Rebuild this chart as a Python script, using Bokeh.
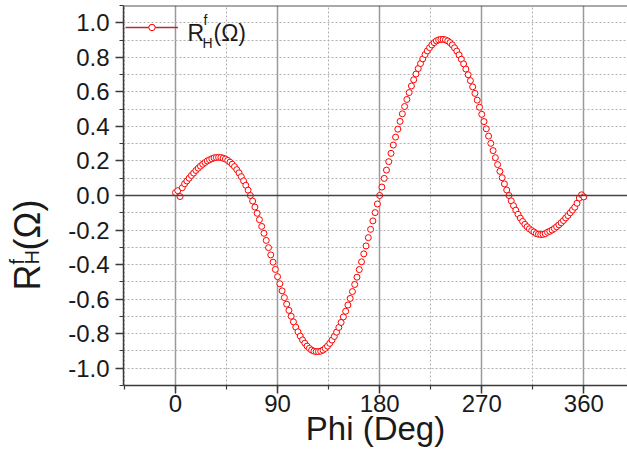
import math
from bokeh.plotting import figure
from bokeh.layouts import row
from bokeh.models import (Range1d, SingleIntervalTicker, PrintfTickFormatter, Span,
                          Label, Legend, LegendItem, ColumnDataSource)
from bokeh.embed import file_html
from bokeh.resources import INLINE

# ---- data ----
phi_deg = list(range(0, 361, 2))
rh_ohm = [
    0.017, 0.028, -0.006, 0.045, 0.068, 0.084, 0.100, 0.116, 0.130, 0.145,   # 0-18
    0.158, 0.170, 0.181, 0.191, 0.200, 0.207, 0.213, 0.218, 0.220, 0.221,    # 20-38
    0.220, 0.216, 0.211, 0.203, 0.193, 0.181, 0.167, 0.150, 0.131, 0.109,    # 40-58
    0.085, 0.059, 0.031, 0.000, -0.032, -0.067, -0.103, -0.140, -0.179, -0.219,  # 60-78
    -0.260, -0.302, -0.344, -0.386, -0.428, -0.470, -0.511, -0.552, -0.591, -0.629,  # 80-98
    -0.665, -0.699, -0.732, -0.762, -0.789, -0.814, -0.836, -0.855, -0.872, -0.885,  # 100-118
    -0.895, -0.901, -0.904, -0.904, -0.901, -0.895, -0.885, -0.872, -0.856, -0.837,  # 120-138
    -0.816, -0.791, -0.764, -0.735, -0.703, -0.670, -0.634, -0.596, -0.556, -0.515,  # 140-158
    -0.473, -0.429, -0.384, -0.338, -0.292, -0.244, -0.196, -0.147, -0.099, -0.049,  # 160-178
    0.000,                                                                       # 180
    0.049, 0.099, 0.147, 0.196, 0.244, 0.292, 0.338, 0.384, 0.429, 0.473,    # 182-200
    0.515, 0.556, 0.596, 0.634, 0.670, 0.703, 0.735, 0.764, 0.791, 0.816,    # 202-220
    0.837, 0.856, 0.872, 0.885, 0.895, 0.901, 0.904, 0.904, 0.901, 0.895,    # 222-240
    0.885, 0.872, 0.855, 0.836, 0.814, 0.789, 0.762, 0.732, 0.699, 0.665,    # 242-260
    0.629, 0.591, 0.552, 0.511, 0.470, 0.428, 0.386, 0.344, 0.302, 0.260,    # 262-280
    0.219, 0.179, 0.140, 0.103, 0.067, 0.032, 0.000, -0.031, -0.059, -0.085,  # 282-300
    -0.109, -0.131, -0.150, -0.167, -0.181, -0.193, -0.203, -0.211, -0.220, -0.224,  # 302-320
    -0.226, -0.225, -0.221, -0.213, -0.207, -0.200, -0.191, -0.181, -0.170, -0.158,  # 322-340
    -0.145, -0.130, -0.116, -0.100, -0.084, -0.068, -0.045, -0.015, 0.004, -0.008,   # 342-360
]

x_title = "Phi (Deg)"
y_title_main = "R"
y_title_sub = "H"
y_title_sup = "f"
y_title_unit = "(\u03a9)"

FONT = "Liberation Sans"
TXT = "#1a1a1a"
AX = "#3a3a3a"
H = 461
W_STRIP = 60
BOTTOM = 385  # page y of the plot frame bottom

# ---- main plot ----
p = figure(width=627 - W_STRIP, height=H, output_backend="svg", toolbar_location=None,
           x_range=Range1d(-45.85, 398.5), y_range=Range1d(-1.1, 1.1),
           min_border_left=123 - W_STRIP, min_border_right=0, min_border_top=5,
           min_border_bottom=H - BOTTOM,
           background_fill_color="white", border_fill_color="white")
p.outline_line_color = None

p.xaxis.ticker = SingleIntervalTicker(interval=90, num_minor_ticks=2)
p.yaxis.ticker = SingleIntervalTicker(interval=0.2, num_minor_ticks=2)
p.yaxis.formatter = PrintfTickFormatter(format="%.1f")
for ax in (p.xaxis, p.yaxis):
    ax.axis_line_color = AX
    ax.axis_line_width = 1.5
    ax.major_tick_line_color = AX
    ax.major_tick_line_width = 1.5
    ax.minor_tick_line_color = AX
    ax.minor_tick_line_width = 1.2
    ax.major_tick_in = 0
    ax.minor_tick_in = 0
    ax.major_tick_out = 8
    ax.minor_tick_out = 4
    ax.major_label_text_font = FONT
    ax.major_label_text_font_size = "24px"
    ax.major_label_text_color = TXT
p.xaxis.major_label_standoff = 1
p.yaxis.major_label_standoff = 6
p.xaxis.axis_label = x_title
p.xaxis.axis_label_text_font = FONT
p.xaxis.axis_label_text_font_size = "33px"
p.xaxis.axis_label_text_font_style = "normal"
p.xaxis.axis_label_text_color = TXT
p.xaxis.axis_label_standoff = -5

p.xgrid.grid_line_color = "#9a9a9a"
p.xgrid.grid_line_width = 1.5
p.xgrid.minor_grid_line_color = "#b0b0b0"
p.xgrid.minor_grid_line_dash = "2 2"
p.xgrid.minor_grid_line_width = 1
p.ygrid.grid_line_color = None
p.ygrid.minor_grid_line_color = "#b0b0b0"
p.ygrid.minor_grid_line_dash = "2 2"
p.ygrid.minor_grid_line_width = 1

p.add_layout(Span(location=0, dimension="width", line_color="#444444", line_width=1.5))
p.add_layout(Span(location=1.1, dimension="width", line_color="#555555", line_width=2))

src = ColumnDataSource(dict(x=phi_deg, y=rh_ohm))
leg_line = p.line("x", "y", source=src, line_color="#b03030", line_width=1.3, visible=False)
circ = p.scatter("x", "y", source=src, marker="circle", size=6, line_color="#ff0000",
                 fill_color="white", line_width=1)

legend = Legend(items=[LegendItem(label=" ", renderers=[leg_line, circ])],
                location=(2, 350), glyph_width=53, glyph_height=16, padding=0, margin=0,
                spacing=0, label_standoff=0, label_width=0, label_height=0,
                label_text_font_size="1px", background_fill_alpha=0, border_line_color=None,
                click_policy="none")
p.add_layout(legend, "center")


def lab(fig, text, x, y, size, angle=0.0):
    fig.add_layout(Label(text=text, x=x, y=y, x_units="screen", y_units="screen",
                         angle=angle, text_font=FONT, text_font_size=size, text_color=TXT,
                         text_align="left", text_baseline="alphabetic"))

# legend text (frame-relative)
lab(p, y_title_main, 64, 353, "23px")
lab(p, y_title_sub, 79, 343, "14px")
lab(p, y_title_sup, 80, 366, "14px")
lab(p, y_title_unit, 90, 353, "23px")

# ---- y title strip (its frame is aligned with the main frame: page y 5..385) ----
fy = figure(width=W_STRIP, height=H, output_backend="svg", toolbar_location=None,
            x_axis_location=None, y_axis_location=None,
            min_border_left=0, min_border_right=0, min_border_top=5,
            min_border_bottom=H - BOTTOM,
            background_fill_color="white", border_fill_color="white")
fy.outline_line_color = None
fy.grid.visible = False
a = math.pi / 2
lab(fy, y_title_main, 27, BOTTOM - 290, "36px", angle=a)
lab(fy, y_title_sub, 31, BOTTOM - 264, "20px", angle=a)
lab(fy, y_title_sup, 16, BOTTOM - 264, "20px", angle=a)
lab(fy, y_title_unit, 27, BOTTOM - 250, "36px", angle=a)

layout = row(fy, p, spacing=0)
open("out.html", "w").write(file_html(layout, INLINE))
